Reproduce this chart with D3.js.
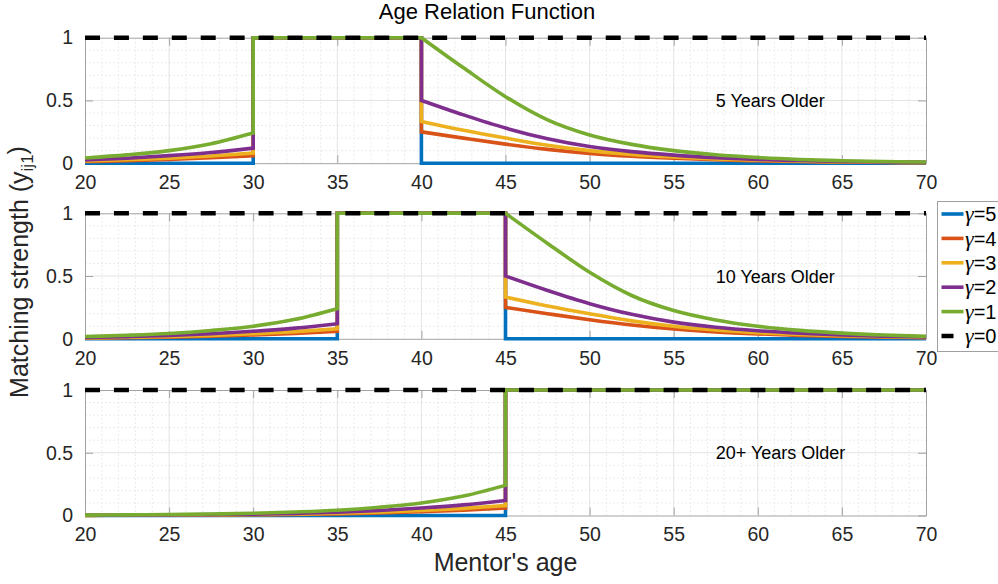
<!DOCTYPE html>
<html>
<head>
<meta charset="utf-8">
<script src="https://cdn.jsdelivr.net/npm/d3@7"></script>
<style>
  body { margin: 0; background: #fff; }
  svg { display: block; font-family: "Liberation Sans", Arial, Helvetica, sans-serif; }
</style>
</head>
<body>
<div id="chart"></div>
<script>
// Chart data
var panelLabels = ["5 Years Older", "10 Years Older", "20+ Years Older"];
var windowStart = [30, 35, 45];
var windowEnd = [40, 45, 70];
var gammaLabels = ["5", "4", "3", "2", "1", "0"];
var lineColors = ["#0072BD", "#D95319", "#EDB120", "#7E2F8E", "#77AC30", "#000000"];
var ageTicks = [20, 25, 30, 35, 40, 45, 50, 55, 60, 65, 70];
var strengthTicks = [0, 0.5, 1];

// years away from the matching window
var decayYears = [0, 2.5, 5, 7.5, 10, 12.5, 15, 17.5, 20, 22.5, 25, 27.5, 30];

// strength below the window (mentor too young), gamma = 5,4,3,2,1
var belowDecay = [
    [0, 0, 0, 0, 0, 0, 0, 0, 0, 0, 0],
    [0.06, 0.043, 0.03, 0.02, 0.013, 0.009, 0.006, 0.004, 0.003, 0.002, 0.001],
    [0.08, 0.057, 0.04, 0.027, 0.018, 0.012, 0.008, 0.005, 0.003, 0.002, 0.001],
    [0.12, 0.085, 0.06, 0.04, 0.026, 0.017, 0.011, 0.007, 0.005, 0.003, 0.002],
    [0.24, 0.155, 0.10, 0.066, 0.042, 0.028, 0.018, 0.012, 0.008, 0.005, 0.003]
];

// strength above the window (mentor too old), gamma = 5,4,3,2,1
var aboveDecay = [
    [0, 0, 0, 0, 0, 0, 0, 0, 0, 0, 0, 0, 0],
    [0.25, 0.2, 0.152, 0.11, 0.078, 0.055, 0.039, 0.027, 0.019, 0.013, 0.009, 0.006, 0.004],
    [0.333, 0.262, 0.2, 0.143, 0.1, 0.07, 0.049, 0.034, 0.024, 0.016, 0.011, 0.008, 0.005],
    [0.5, 0.385, 0.28, 0.195, 0.133, 0.092, 0.064, 0.044, 0.03, 0.021, 0.014, 0.01, 0.007],
    [1, 0.76, 0.53, 0.345, 0.225, 0.15, 0.1, 0.067, 0.045, 0.03, 0.02, 0.013, 0.009]
];

// Setup
var svgWidth = 998;
var svgHeight = 584;
var marginLeft = 85;
var width = 841;
var panelHeight = 125.5;
var panelTops = [37.7, 213.3, 390];
var axisGray = "#a3a3a3";

var svg = d3.select("#chart")
    .append("svg")
    .attr("width", svgWidth)
    .attr("height", svgHeight);

var x = d3.scaleLinear().domain([20, 70]).range([0, width]);
var y = d3.scaleLinear().domain([0, 1]).range([panelHeight, 0]);

var curveLine = d3.line()
    .x(d => x(d[0]))
    .y(d => y(d[1]))
    .curve(d3.curveMonotoneX);
var straightLine = d3.line()
    .x(d => x(d[0]))
    .y(d => y(d[1]));

function seriesPath(k, i) {
    var ws = windowStart[i], we = windowEnd[i];
    var left = belowDecay[k].map((v, j) => [ws - decayYears[j], v])
        .filter(p => p[0] >= 20).reverse();
    var right = aboveDecay[k].map((v, j) => [we + decayYears[j], v])
        .filter(p => p[0] <= 70);
    var path = curveLine(left);
    path += straightLine([[ws, 1], [we, 1]]).replace(/^M/, "L");
    if (right.length > 1) path += curveLine(right).replace(/^M/, "L");
    return path;
}

function styleAxis(sel) {
    sel.selectAll(".domain").attr("stroke", axisGray);
    sel.selectAll(".tick line").attr("stroke", axisGray);
    sel.selectAll("text")
        .attr("fill", "#262626")
        .style("font-size", "19.5px")
        .style("font-family", "'Liberation Sans', Arial, sans-serif");
}

panelLabels.forEach(function (label, i) {
    var g = svg.append("g")
        .attr("transform", `translate(${marginLeft}, ${panelTops[i]})`);

    // minor grid
    g.append("g").selectAll("line")
        .data(d3.range(21, 70).filter(v => v % 5 !== 0))
        .enter().append("line")
        .attr("x1", d => x(d)).attr("x2", d => x(d))
        .attr("y1", 0).attr("y2", panelHeight)
        .attr("stroke", "#ebebeb").attr("stroke-dasharray", "2,2");
    g.append("g").selectAll("line")
        .data([0.1, 0.2, 0.3, 0.4, 0.6, 0.7, 0.8, 0.9])
        .enter().append("line")
        .attr("x1", 0).attr("x2", width)
        .attr("y1", d => y(d)).attr("y2", d => y(d))
        .attr("stroke", "#ebebeb").attr("stroke-dasharray", "2,2");

    // major grid
    g.append("g").selectAll("line")
        .data(ageTicks.slice(1, -1))
        .enter().append("line")
        .attr("x1", d => x(d)).attr("x2", d => x(d))
        .attr("y1", 0).attr("y2", panelHeight)
        .attr("stroke", "#e3e3e3");
    g.append("line")
        .attr("x1", 0).attr("x2", width)
        .attr("y1", y(0.5)).attr("y2", y(0.5))
        .attr("stroke", "#e3e3e3");

    // axes (box)
    g.append("g")
        .attr("transform", `translate(0, ${panelHeight})`)
        .call(d3.axisBottom(x).tickValues(ageTicks).tickSizeInner(-8).tickSizeOuter(0).tickPadding(12))
        .call(styleAxis);
    g.append("g")
        .call(d3.axisTop(x).tickValues(ageTicks).tickSizeInner(-8).tickSizeOuter(0).tickFormat(""))
        .call(styleAxis);
    g.append("g")
        .call(d3.axisLeft(y).tickValues(strengthTicks).tickSizeInner(-8).tickSizeOuter(0)
            .tickPadding(12).tickFormat(d3.format("~g")))
        .call(styleAxis);
    g.append("g")
        .attr("transform", `translate(${width}, 0)`)
        .call(d3.axisRight(y).tickValues(strengthTicks).tickSizeInner(-8).tickSizeOuter(0).tickFormat(""))
        .call(styleAxis);

    // series, drawn gamma=5 first, gamma=0 last
    belowDecay.forEach(function (vals, k) {
        g.append("path")
            .attr("d", seriesPath(k, i))
            .attr("fill", "none")
            .attr("stroke", lineColors[k])
            .attr("stroke-width", 3.6);
    });
    g.append("path")
        .attr("d", straightLine([[20, 1], [70, 1]]))
        .attr("fill", "none")
        .attr("stroke", lineColors[5])
        .attr("stroke-width", 4.5)
        .attr("stroke-dasharray", "15,13.93");

    // panel label
    g.append("text")
        .attr("x", x(57.5))
        .attr("y", y(0.5))
        .attr("dy", "0.36em")
        .style("font-size", "18px")
        .attr("fill", "#000")
        .text(label);
});

// Title
svg.append("text")
    .attr("x", 487)
    .attr("y", 18.5)
    .attr("text-anchor", "middle")
    .style("font-size", "22px")
    .attr("fill", "#000")
    .text("Age Relation Function");

// Axis labels
svg.append("text")
    .attr("x", marginLeft + width / 2)
    .attr("y", 571)
    .attr("text-anchor", "middle")
    .style("font-size", "25px")
    .attr("fill", "#262626")
    .text("Mentor's age");

var yLabel = svg.append("text")
    .attr("transform", "translate(28, 272) rotate(-90)")
    .attr("text-anchor", "middle")
    .style("font-size", "25px")
    .attr("fill", "#262626");
yLabel.append("tspan").text("Matching strength (y");
yLabel.append("tspan").attr("dy", "0.3em").style("font-size", "17px").text("ij1");
yLabel.append("tspan").attr("dy", "-0.3em").text(")");

// Legend
var legend = svg.append("g").attr("transform", "translate(937.5, 201.5)");
legend.append("rect")
    .attr("width", 80).attr("height", 150)
    .attr("fill", "#fff").attr("stroke", "#a0a0a0");

gammaLabels.forEach(function (gl, k) {
    var ly = 12.5 + k * 24.4;
    legend.append("line")
        .attr("x1", 4).attr("x2", 26)
        .attr("y1", ly).attr("y2", ly)
        .attr("stroke", lineColors[k])
        .attr("stroke-width", k === 5 ? 4.5 : 3.6)
        .attr("stroke-dasharray", k === 5 ? "12,12" : null);
    var t = legend.append("text")
        .attr("x", 27.5).attr("y", ly).attr("dy", "0.36em")
        .style("font-size", "20px")
        .attr("fill", "#000");
    t.append("tspan")
        .style("font-family", "'Liberation Serif', 'Times New Roman', serif")
        .style("font-style", "italic")
        .style("font-size", "22px")
        .text("γ");
    t.append("tspan").text("=" + gl);
});
</script>
</body>
</html>
